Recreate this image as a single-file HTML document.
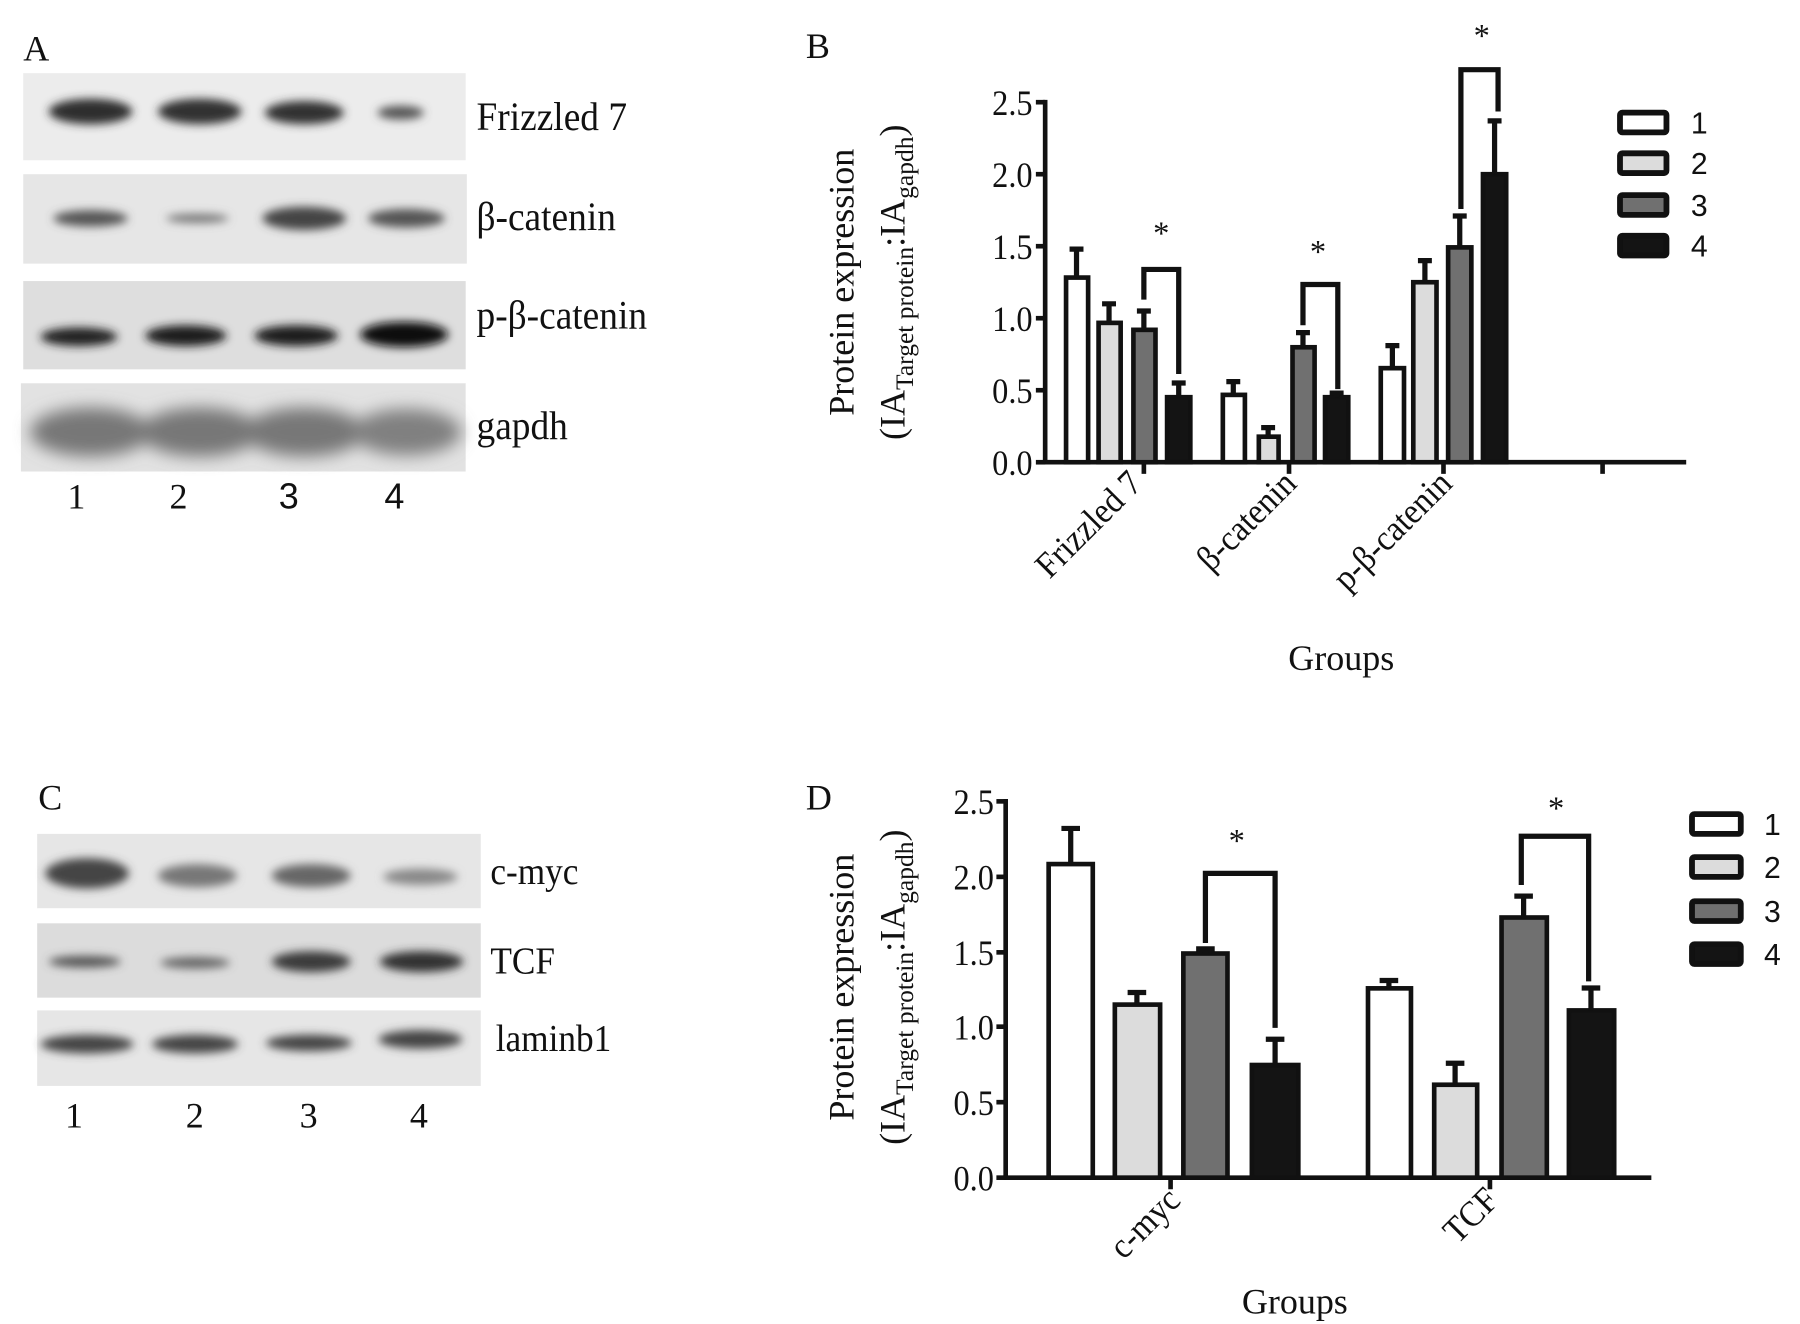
<!DOCTYPE html>
<html><head><meta charset="utf-8"><style>
html,body{margin:0;padding:0;background:#fff;}
svg{display:block;}
.s{font-family:"Liberation Serif",serif;fill:#111;}
.a{font-family:"Liberation Sans",sans-serif;fill:#111;}
</style></head><body>
<svg width="1800" height="1324" viewBox="0 0 1550 1140" preserveAspectRatio="none" xmlns="http://www.w3.org/2000/svg">
<defs>
<filter id="bl" x="-20%" y="-50%" width="140%" height="200%"><feGaussianBlur stdDeviation="4"/></filter>
<filter id="bl2" x="-20%" y="-50%" width="140%" height="200%"><feGaussianBlur stdDeviation="7"/></filter>
</defs>
<rect width="1550" height="1140" fill="#fff"/>

<!-- Panel A -->
<text class="s" x="20" y="52" font-size="31">A</text>
<rect x="20" y="63" width="381" height="75" fill="#ececec"/>
<rect x="20" y="150" width="382" height="77" fill="#e6e6e6"/>
<rect x="20" y="242" width="381" height="76" fill="#dedede"/>
<rect x="18" y="330" width="383" height="76" fill="#e2e2e2"/>
<g filter="url(#bl)">
<ellipse cx="78" cy="96" rx="36" ry="11" fill="#2e2e2e"/>
<ellipse cx="172" cy="96" rx="36" ry="11" fill="#333"/>
<ellipse cx="262" cy="97" rx="34" ry="10" fill="#333"/>
<ellipse cx="345" cy="97" rx="20" ry="6" fill="#555"/>
<ellipse cx="78" cy="188" rx="32" ry="7" fill="#555"/>
<ellipse cx="170" cy="188" rx="27" ry="4" fill="#777"/>
<ellipse cx="262" cy="188" rx="36" ry="10" fill="#444"/>
<ellipse cx="350" cy="188" rx="33" ry="8" fill="#555"/>
<ellipse cx="68" cy="290" rx="33" ry="8" fill="#222"/>
<ellipse cx="160" cy="289" rx="35" ry="9" fill="#1a1a1a"/>
<ellipse cx="255" cy="289" rx="36" ry="9" fill="#1e1e1e"/>
<ellipse cx="348" cy="288" rx="38" ry="11" fill="#111"/>
</g>
<g filter="url(#bl2)">
<ellipse cx="78" cy="372" rx="52" ry="21" fill="#777"/>
<ellipse cx="172" cy="372" rx="52" ry="21" fill="#777"/>
<ellipse cx="262" cy="372" rx="52" ry="21" fill="#777"/>
<ellipse cx="350" cy="372" rx="47" ry="20" fill="#808080"/>
</g>
<g class="s" font-size="35" transform="scale(0.92,1)">
<text x="446" y="112">Frizzled 7</text>
<text x="446" y="198">β-catenin</text>
<text x="446" y="283">p-β-catenin</text>
<text x="446" y="378">gapdh</text>
</g>
<text class="s" x="58" y="438" font-size="31">1</text>
<text class="s" x="146" y="438" font-size="31">2</text>
<text class="a" x="240" y="438" font-size="31">3</text>
<text class="a" x="331" y="438" font-size="31">4</text>

<!-- Panel C -->
<text class="s" x="33" y="697" font-size="31">C</text>
<rect x="32" y="718" width="382" height="64" fill="#e6e6e6"/>
<rect x="32" y="795" width="382" height="64" fill="#dcdcdc"/>
<rect x="32" y="870" width="382" height="65" fill="#e6e6e6"/>
<g filter="url(#bl)">
<ellipse cx="75" cy="752" rx="36" ry="13" fill="#444"/>
<ellipse cx="170" cy="754" rx="34" ry="10" fill="#777"/>
<ellipse cx="268" cy="754" rx="34" ry="10" fill="#666"/>
<ellipse cx="362" cy="755" rx="32" ry="7" fill="#888"/>
<ellipse cx="73" cy="828" rx="31" ry="5" fill="#555"/>
<ellipse cx="168" cy="829" rx="30" ry="5" fill="#666"/>
<ellipse cx="268" cy="828" rx="34" ry="9" fill="#3a3a3a"/>
<ellipse cx="363" cy="828" rx="36" ry="9" fill="#333"/>
<ellipse cx="75" cy="899" rx="40" ry="8" fill="#444"/>
<ellipse cx="168" cy="899" rx="37" ry="8" fill="#444"/>
<ellipse cx="266" cy="898" rx="37" ry="7" fill="#444"/>
<ellipse cx="362" cy="895" rx="36" ry="8" fill="#444"/>
</g>
<g class="s" font-size="33" transform="scale(0.92,1)">
<text x="459" y="761">c-myc</text>
<text x="459" y="838">TCF</text>
<text x="464" y="905">laminb1</text>
</g>
<text class="s" x="56" y="971" font-size="31">1</text>
<text class="s" x="160" y="971" font-size="31">2</text>
<text class="s" x="258" y="971" font-size="31">3</text>
<text class="s" x="353" y="971" font-size="31">4</text>

<!-- Panel B -->
<text class="s" x="694" y="50" font-size="31">B</text>
<g stroke="#111" stroke-width="4" fill="none">
<line x1="900" y1="86" x2="900" y2="398"/>
<line x1="898" y1="398" x2="1452" y2="398"/>
<line x1="892" y1="88" x2="900" y2="88"/><line x1="892" y1="150" x2="900" y2="150"/>
<line x1="892" y1="212" x2="900" y2="212"/><line x1="892" y1="274" x2="900" y2="274"/>
<line x1="892" y1="336" x2="900" y2="336"/><line x1="892" y1="398" x2="900" y2="398"/>
<line x1="985" y1="398" x2="985" y2="408"/><line x1="1110" y1="398" x2="1110" y2="408"/>
<line x1="1243" y1="398" x2="1243" y2="408"/><line x1="1380" y1="398" x2="1380" y2="408"/>
</g>
<g class="s" font-size="31" text-anchor="end" transform="scale(0.9,1)">
<text x="988" y="99">2.5</text><text x="988" y="161">2.0</text><text x="988" y="223">1.5</text>
<text x="988" y="285">1.0</text><text x="988" y="347">0.5</text><text x="988" y="409">0.0</text>
</g>
<g stroke="#111" stroke-width="4">
<rect x="918" y="239" width="19" height="159" fill="#fff"/>
<rect x="946" y="278" width="19" height="120" fill="#dcdcdc"/>
<rect x="976" y="284" width="19" height="114" fill="#707070"/>
<rect x="1005" y="342" width="20" height="56" fill="#141414"/>
<rect x="1053" y="340" width="19" height="58" fill="#fff"/>
<rect x="1084" y="376" width="17" height="22" fill="#dcdcdc"/>
<rect x="1113" y="299" width="19" height="99" fill="#707070"/>
<rect x="1141" y="342" width="20" height="56" fill="#141414"/>
<rect x="1189" y="317" width="20" height="81" fill="#fff"/>
<rect x="1217" y="243" width="20" height="155" fill="#dcdcdc"/>
<rect x="1247" y="213" width="20" height="185" fill="#707070"/>
<rect x="1277" y="150" width="20" height="248" fill="#141414"/>
</g>
<g stroke="#111" stroke-width="4.5" fill="none">
<path d="M927 239V214.5M921 214.5H933"/>
<path d="M955 278V261.6M949 261.6H961"/>
<path d="M985 284V267.8M979 267.8H991"/>
<path d="M1015 342V329.8M1009 329.8H1021"/>
<path d="M1062 340V328.6M1056 328.6H1068"/>
<path d="M1092 376V368.2M1086 368.2H1098"/>
<path d="M1122 299V286.4M1116 286.4H1128"/>
<path d="M1151 342V338.5M1145 338.5H1157"/>
<path d="M1199 317V297.6M1193 297.6H1205"/>
<path d="M1227 243V224.4M1221 224.4H1233"/>
<path d="M1257 213V186M1251 186H1263"/>
<path d="M1287 150V104.1M1281 104.1H1293"/>
<path d="M985 258V232H1015V322"/>
<path d="M1122 280V245H1152V335"/>
<path d="M1258 180V60H1290V96"/>
</g>
<g class="s" font-size="28" text-anchor="middle">
<text x="1000" y="210">*</text><text x="1135" y="226">*</text><text x="1276" y="40">*</text>
</g>
<g class="s" font-size="31" text-anchor="end">
<text transform="translate(985,418) rotate(-45) scale(0.92,1)">Frizzled 7</text>
<text transform="translate(1118,418) rotate(-45) scale(0.92,1)">β-catenin</text>
<text transform="translate(1252,418) rotate(-45) scale(0.92,1)">p-β-catenin</text>
</g>
<text class="s" x="1155" y="577" font-size="31" text-anchor="middle">Groups</text>
<g transform="translate(735,243) rotate(-90)" class="s" text-anchor="middle">
<text x="0" y="0" font-size="31">Protein expression</text>
<text x="0" y="44" font-size="31">(IA<tspan font-size="22" dy="7">Target protein</tspan><tspan dy="-7">:IA</tspan><tspan font-size="22" dy="7">gapdh</tspan><tspan dy="-7">)</tspan></text>
</g>
<g stroke="#111" stroke-width="5">
<rect x="1395" y="97" width="40" height="17" rx="2" fill="#fff"/>
<rect x="1395" y="132" width="40" height="17" rx="2" fill="#dcdcdc"/>
<rect x="1395" y="168" width="40" height="17" rx="2" fill="#707070"/>
<rect x="1395" y="203" width="40" height="17" rx="2" fill="#141414"/>
</g>
<g class="a" font-size="26">
<text x="1456" y="115">1</text><text x="1456" y="150">2</text><text x="1456" y="186">3</text><text x="1456" y="221">4</text>
</g>

<!-- Panel D -->
<text class="s" x="694" y="697" font-size="31">D</text>
<g stroke="#111" stroke-width="4" fill="none">
<line x1="866" y1="688" x2="866" y2="1014"/>
<line x1="864" y1="1014" x2="1422" y2="1014"/>
<line x1="858" y1="690" x2="866" y2="690"/><line x1="858" y1="755" x2="866" y2="755"/>
<line x1="858" y1="820" x2="866" y2="820"/><line x1="858" y1="884" x2="866" y2="884"/>
<line x1="858" y1="949" x2="866" y2="949"/><line x1="858" y1="1014" x2="866" y2="1014"/>
<line x1="1008" y1="1014" x2="1008" y2="1024"/><line x1="1283" y1="1014" x2="1283" y2="1024"/>
</g>
<g class="s" font-size="31" text-anchor="end" transform="scale(0.9,1)">
<text x="951" y="701">2.5</text><text x="951" y="766">2.0</text><text x="951" y="831">1.5</text>
<text x="951" y="895">1.0</text><text x="951" y="960">0.5</text><text x="951" y="1025">0.0</text>
</g>
<g stroke="#111" stroke-width="4">
<rect x="903" y="744" width="38" height="270" fill="#fff"/>
<rect x="960" y="865" width="39" height="149" fill="#dcdcdc"/>
<rect x="1019" y="821" width="38" height="193" fill="#707070"/>
<rect x="1078" y="917" width="40" height="97" fill="#141414"/>
<rect x="1178" y="851" width="37" height="163" fill="#fff"/>
<rect x="1235" y="934" width="37" height="80" fill="#dcdcdc"/>
<rect x="1293" y="790" width="39" height="224" fill="#707070"/>
<rect x="1351" y="870" width="39" height="144" fill="#141414"/>
</g>
<g stroke="#111" stroke-width="4.5" fill="none">
<path d="M922 744V713.3M914 713.3H930"/>
<path d="M979 865V854.6M971 854.6H987"/>
<path d="M1038 821V817M1030 817H1046"/>
<path d="M1098 917V894.8M1090 894.8H1106"/>
<path d="M1196 851V844.2M1188 844.2H1204"/>
<path d="M1253 934V915.5M1245 915.5H1261"/>
<path d="M1312 790V771.6M1304 771.6H1320"/>
<path d="M1370 870V850.7M1362 850.7H1378"/>
<path d="M1038 812V752H1098V885"/>
<path d="M1310 762V720H1368V845"/>
</g>
<g class="s" font-size="28" text-anchor="middle">
<text x="1065" y="733">*</text><text x="1340" y="705">*</text>
</g>
<g class="s" font-size="31" text-anchor="end">
<text transform="translate(1018,1035) rotate(-45) scale(0.92,1)">c-myc</text>
<text transform="translate(1292,1035) rotate(-45) scale(0.92,1)">TCF</text>
</g>
<text class="s" x="1115" y="1131" font-size="31" text-anchor="middle">Groups</text>
<g transform="translate(735,850) rotate(-90)" class="s" text-anchor="middle">
<text x="0" y="0" font-size="31">Protein expression</text>
<text x="0" y="44" font-size="31">(IA<tspan font-size="22" dy="7">Target protein</tspan><tspan dy="-7">:IA</tspan><tspan font-size="22" dy="7">gapdh</tspan><tspan dy="-7">)</tspan></text>
</g>
<g stroke="#111" stroke-width="5">
<rect x="1457" y="701" width="42" height="17" rx="2" fill="#fff"/>
<rect x="1457" y="738" width="42" height="17" rx="2" fill="#dcdcdc"/>
<rect x="1457" y="776" width="42" height="17" rx="2" fill="#707070"/>
<rect x="1457" y="813" width="42" height="17" rx="2" fill="#141414"/>
</g>
<g class="a" font-size="26">
<text x="1519" y="719">1</text><text x="1519" y="756">2</text><text x="1519" y="794">3</text><text x="1519" y="831">4</text>
</g>
</svg>
</body></html>
